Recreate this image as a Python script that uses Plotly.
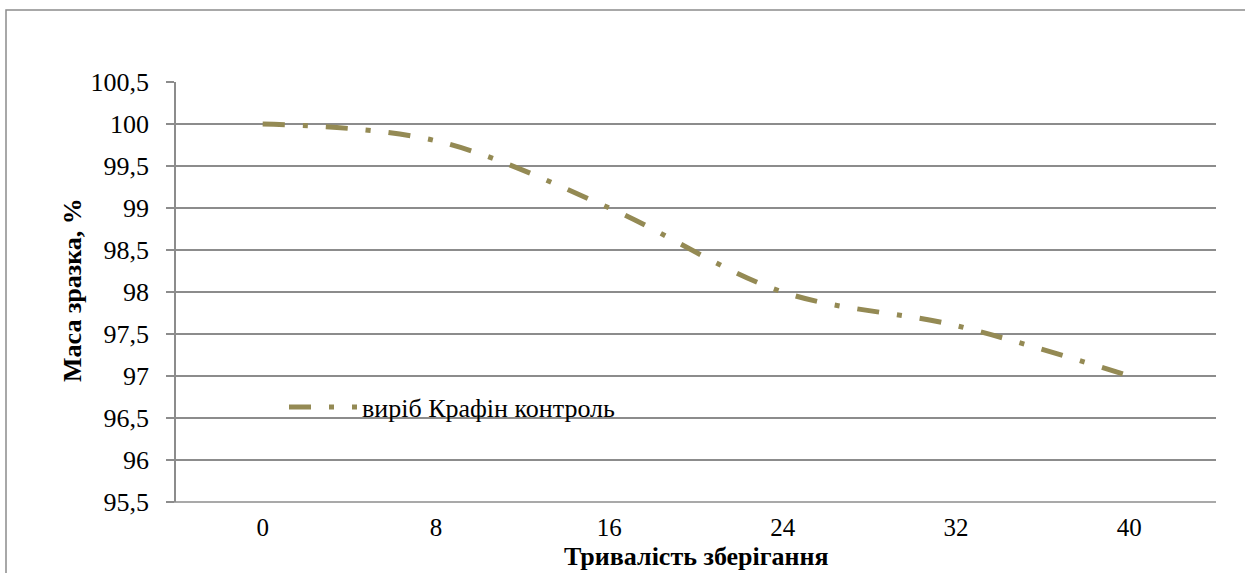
import plotly.graph_objects as go

categories = ["0", "8", "16", "24", "32", "40"]
values = [100.0, 99.8, 99.0, 98.0, 97.6, 97.0]
series_name = "виріб Крафін контроль"
y_ticks = [95.5, 96, 96.5, 97, 97.5, 98, 98.5, 99, 99.5, 100, 100.5]

W, H = 1245, 573
L, R, T, B = 176, 1216, 82, 502

def px_x(p):
    return (p - L) / (R - L)

def px_y(p):
    return (B - p) / (B - T)

FONT = "Liberation Serif"
FS = 26
GRID = "#8c8c8c"
LINE = "#948a54"

fig = go.Figure()
fig.add_trace(go.Scatter(
    x=categories, y=values, mode="lines", name=series_name,
    line=dict(color=LINE, width=5, shape="spline", smoothing=1,
              dash="22px,18px,5px,18px"),
))

fig.update_layout(
    width=W, height=H,
    margin=dict(l=L, r=W - R, t=T, b=H - B),
    paper_bgcolor="white", plot_bgcolor="white",
    separators=", ",
    font=dict(family=FONT, size=FS, color="black"),
    showlegend=True,
    legend=dict(x=px_x(284), y=px_y(407), xanchor="left", yanchor="middle",
                bgcolor="rgba(0,0,0,0)", font=dict(family=FONT, size=FS),
                itemwidth=68),
    xaxis=dict(type="category", range=[-0.5, 5.5], showgrid=False,
               showline=False, ticks="", zeroline=False,
               tickfont=dict(family=FONT, size=FS - 1), ticklabelstandoff=8),
    yaxis=dict(range=[95.5, 100.5], tickvals=y_ticks,
               ticktext=[str(v).replace(".", ",") if v != int(v) else str(int(v)) for v in y_ticks],
               showgrid=True, gridcolor=GRID, gridwidth=1.5,
               showline=True, linecolor=GRID, linewidth=1.5,
               ticks="outside", ticklen=8, tickcolor=GRID, tickwidth=1.5,
               zeroline=False, tickfont=dict(family=FONT, size=FS),
               ticklabelstandoff=12),
    annotations=[
        dict(text="<b>Маса зразка, %</b>", xref="paper", yref="paper",
             x=px_x(72), y=px_y(290), textangle=-90, showarrow=False,
             xanchor="center", yanchor="middle",
             font=dict(family=FONT, size=FS, color="black")),
        dict(text="<b>Тривалість зберігання</b>", xref="paper", yref="paper",
             x=px_x(696), y=px_y(556), showarrow=False,
             xanchor="center", yanchor="middle",
             font=dict(family=FONT, size=FS, color="black")),
    ],
    shapes=[
        dict(type="rect", xref="paper", yref="paper",
             x0=px_x(6), x1=px_x(1260), y0=px_y(600), y1=px_y(10),
             line=dict(color=GRID, width=1.5), layer="below"),
        dict(type="line", xref="paper", yref="paper",
             x0=px_x(168), x1=1, y0=0, y1=0,
             line=dict(color=GRID, width=1.5), layer="below"),
    ],
)

fig.write_html("out.html")
